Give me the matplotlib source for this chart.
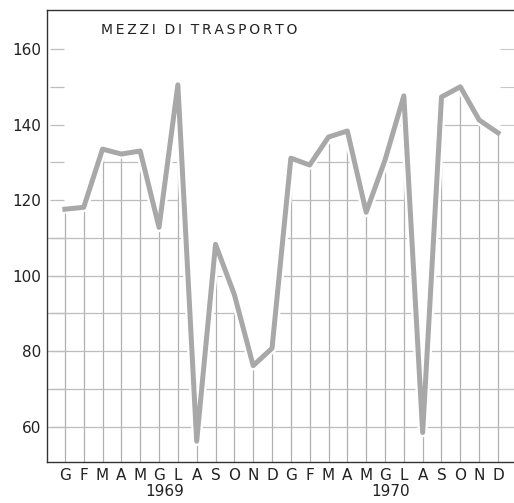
import matplotlib
matplotlib.use("Agg")
import matplotlib.pyplot as plt
from matplotlib.patches import Polygon
import numpy as np

months = list("GFMAMGLASOND") * 2
years = ["1969", "1970"]
values_1969 = [117.6, 118.1, 133.5, 132.2, 133.0, 112.8, 150.5, 56.2, 108.3, 95.0, 76.2, 80.8]
values_1970 = [131.1, 129.3, 136.7, 138.3, 116.8, 130.6, 147.6, 58.5, 147.3, 150.0, 141.2, 137.8]
yticks = [60, 80, 100, 120, 140, 160]
title = "MEZZI DI TRASPORTO"

values = np.array(values_1969 + values_1970)
x = np.arange(len(values))

fig = plt.figure(figsize=(5.14, 5.03), dpi=100)
ax = fig.add_axes([0.0914, 0.0815, 0.9086, 0.8985])
xmin, xmax = -0.95, 23.85
ymin, ymax = 50.7, 170.3
ax.set_xlim(xmin, xmax)
ax.set_ylim(ymin, ymax)

# region under the curve: grid is only visible there
poly_x = np.concatenate([[xmin], x, [xmax, xmax, xmin]])
poly_y = np.concatenate([[values[0]], values, [values[-1], ymin, ymin]])
clip = Polygon(np.column_stack([poly_x, poly_y]), closed=True, transform=ax.transData,
               facecolor="none", edgecolor="none")
ax.add_patch(clip)

vl = ax.vlines(x, ymin, ymax, color="#b0b0b0", lw=0.9, zorder=1)
vl.set_clip_path(clip)
hl = ax.hlines(np.arange(60, 170, 10), xmin, xmax, color="#bdbdbd", lw=0.9, zorder=1)
hl.set_clip_path(clip)

# tick stubs on both sides
ax.hlines(np.arange(60, 170, 10), xmin + 0.15, xmin + 0.9, color="#bdbdbd", lw=0.9, zorder=1)
ax.hlines(np.arange(60, 170, 10), xmax - 0.75, xmax, color="#c8c8c8", lw=0.8, zorder=1)

ax.plot(x, values, color="white", lw=7, zorder=2, solid_capstyle="butt")
ax.plot(x, values, color="#a8a8a8", lw=3.6, zorder=3)

ax.spines["right"].set_visible(False)
for s in ["left", "top", "bottom"]:
    ax.spines[s].set_color("#333333")
    ax.spines[s].set_linewidth(1.0)

ax.set_yticks(yticks)
ax.set_yticklabels([str(v) for v in yticks], fontsize=11, color="#222222")
ax.tick_params(axis="y", length=0, pad=4)
ax.set_xticks(x)
ax.set_xticklabels(months, fontsize=11, color="#222222")
ax.tick_params(axis="x", length=0, pad=4)

for i, yr in enumerate(years):
    ax.text(5.3 + 12 * i, -0.066, yr, transform=ax.get_xaxis_transform(),
            ha="center", va="center", fontsize=11, color="#222222")

spaced = "  ".join("\u2009".join(w) for w in title.split())
ax.text(0.115, 0.955, spaced, transform=ax.transAxes,
        fontsize=10, color="#222222", ha="left", va="center")

fig.savefig("out.png", dpi=100)
